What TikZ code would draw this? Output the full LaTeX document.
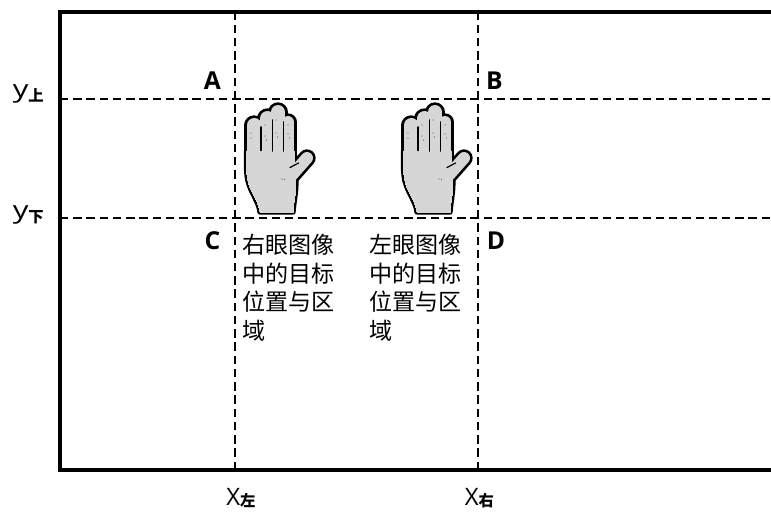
\documentclass[tikz,border=0pt]{standalone}
\usepackage{fontspec}
\setsansfont{Open Sans}
\newfontfamily\cjk{Noto Sans CJK SC}
\definecolor{handgray}{RGB}{214,214,214}
\definecolor{creasegray}{RGB}{90,90,90}

% subscript set in a small CJK face, slightly lowered
\newcommand\cjksub[2][-3.5pt]{\raisebox{#1}{\cjk\bfseries\fontsize{11.5}{11.5}\selectfont #2}}
% a widened letter y for the row labels
\newcommand\widey{\scalebox{1.3}[1]{y}}

% the hand silhouette: fingers and thumb as round-capped strokes, palm as a closed path
\newcommand\handparts[2]{%
  \draw[#1, line width=#2+11.25pt, line cap=round] (9,22.5) -- (9,62);
  \draw[#1, line width=#2+11.25pt, line cap=round] (22.5,15.5) -- (22.5,62);
  \draw[#1, line width=#2+10.5pt, line cap=round] (33,9) -- (33,62);
  \draw[#1, line width=#2+9pt, line cap=round] (43,19) -- (43,62);
  \draw[#1, line width=#2+9pt, line cap=round] (47,72) -- (62,55);
  \path[#1, line width=#2, line join=round, fill]
    (1.5,48) -- (49,48) -- (50.5,72)
    .. controls (52,86) and (49,96) .. (48,109) -- (15,109)
    .. controls (14,99) and (6,90) .. (3,78)
    .. controls (1.5,70) .. (1.5,48) -- cycle;
}

\tikzset{
  frame/.style={line width=3pt},
  guide/.style={line width=1.9pt, dash pattern=on 6.3pt off 3.63pt},
  corner/.style={font=\sffamily\bfseries\fontsize{18.5}{18.5}\selectfont, inner sep=0pt},
  axislabel/.style={font=\sffamily\fontsize{18}{18}\selectfont, inner sep=0pt, anchor=base west},
  caption/.style={font=\cjk\fontsize{17.3}{21.4}\selectfont, align=left, inner sep=0pt, anchor=north west},
  hand/.pic={
    \handparts{draw=black}{4pt}
    \handparts{draw=handgray, fill=handgray}{0pt}
    % gaps between the fingers
    \draw[line width=1.3pt, line cap=round] (16,24) -- (16,47.5);
    \draw[line width=1.3pt, line cap=round] (27.5,17) -- (27.5,48);
    \draw[line width=1.3pt, line cap=round] (38.5,19) -- (38.5,48);
    % base of the thumb
    \draw[line width=0.9pt, line cap=round] (45,64.5) -- (53.5,60);
    % knuckle creases and palm lines
    \foreach \p in {(6,30),(6,35),(20,22),(20,33),(21.5,37),(31,17),(31,30),(32.5,34),(43,22),(43,31),(44.5,35),(37,76),(39.5,76.5)}
      \fill[creasegray] \p circle (0.55pt);
  },
}

\begin{document}
\begin{tikzpicture}[x=0.75pt, y=-0.75pt]
\useasboundingbox (0,0) rectangle (771,515);

% frame corners and guide end points
\coordinate (tl) at (60,12);
\coordinate (bl) at (60,470);
\coordinate (tr) at (776,12);
\coordinate (br) at (776,470);
\coordinate (xl-top) at (235,12);
\coordinate (xl-bot) at (235,470);
\coordinate (xr-top) at (478,12);
\coordinate (xr-bot) at (478,470);
\coordinate (yu-l) at (60,99);
\coordinate (yu-r) at (771,99);
\coordinate (yd-l) at (60,218);
\coordinate (yd-r) at (771,218);

% dashed guides
\draw[guide] (xl-bot) -- (xl-top);
\draw[guide] (xr-bot) -- (xr-top);
\draw[guide] (yu-l) -- (yu-r);
\draw[guide] (yd-l) -- (yd-r);

% image frame
\draw[frame] (tr) -- (tl) -- (bl) -- (br);

% hands
\pic (lefthand) at (245,103) {hand};
\pic (righthand) at (402,103) {hand};

% corner letters
\node[corner] (A) at (212.5,80.5) {A};
\node[corner] (B) at (494.5,81) {B};
\node[corner] (C) at (212.5,241) {C};
\node[corner] (D) at (496,241) {D};

% axis labels
\node[axislabel] (yu) at (12.5,97) {\widey\cjksub{上}};
\node[axislabel] (yd) at (12.5,218) {\widey\cjksub{下}};
\node[axislabel] (xl) at (226,505) {X\cjksub[-0.8pt]{左}};
\node[axislabel] (xr) at (464.5,505) {X\cjksub[-0.8pt]{右}};

% captions
\node[caption] (rcap) at (242,234) {右眼图像\\中的目标\\位置与区\\域};
\node[caption] (lcap) at (369,234) {左眼图像\\中的目标\\位置与区\\域};
\end{tikzpicture}
\end{document}
